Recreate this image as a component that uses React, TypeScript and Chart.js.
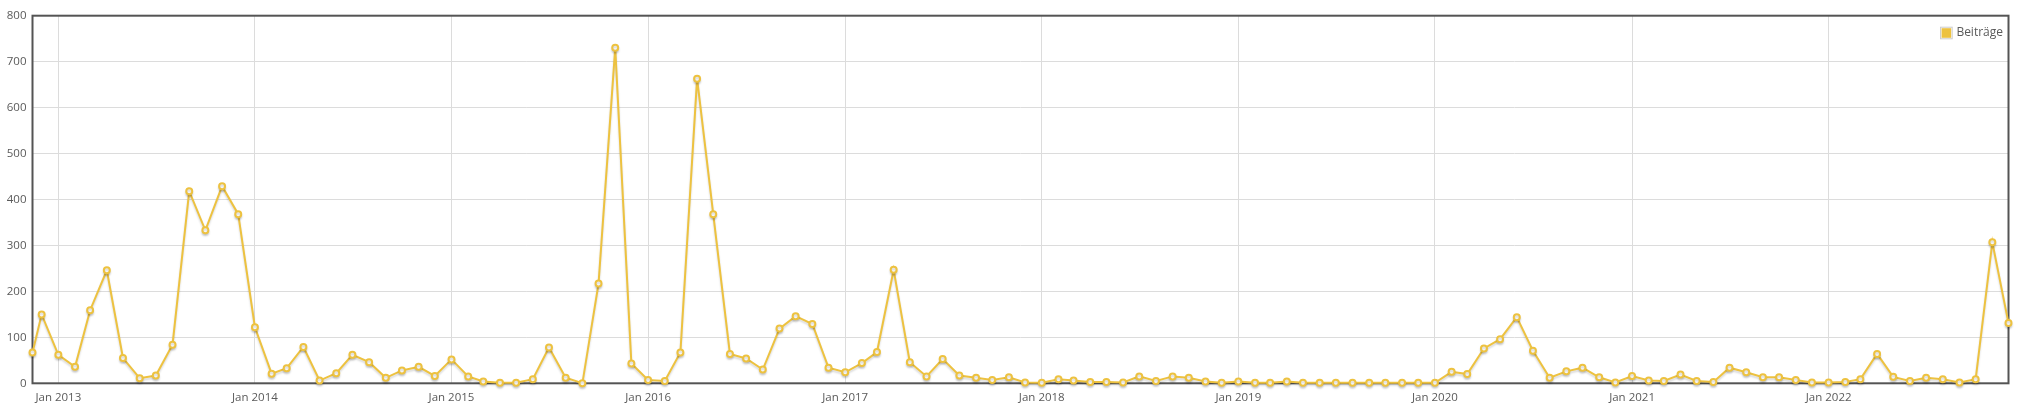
import React, { useEffect, useRef } from "react";
import { Chart, registerables } from "chart.js";

Chart.register(...registerables);

// ---- data ----
const seriesLabel = "Beiträge";
const seriesColor = "#edc240";

// first sample is a partial month starting mid-November 2012
const firstSampleDate = "2012-11-14";
const firstSampleValue = 67;

// monthly samples from Dec 2012 to Dec 2022
const monthlyStart = { year: 2012, month: 12 };
const values2012 = [150];
const values2013 = [62, 36, 159, 246, 55, 11, 17, 84, 418, 333, 429, 368];
const values2014 = [122, 21, 33, 79, 6, 22, 62, 46, 12, 28, 36, 16];
const values2015 = [52, 15, 4, 1, 1, 9, 78, 12, 0, 217, 730, 43];
const values2016 = [7, 5, 67, 663, 368, 64, 54, 30, 119, 146, 129, 34];
const values2017 = [24, 44, 68, 247, 46, 15, 53, 17, 12, 7, 13, 2];
const values2018 = [1, 9, 6, 3, 3, 2, 15, 5, 15, 12, 4, 1];
const values2019 = [4, 1, 1, 4, 1, 1, 1, 1, 1, 1, 1, 1];
const values2020 = [1, 25, 20, 76, 96, 144, 71, 12, 26, 34, 13, 2];
const values2021 = [16, 6, 5, 19, 5, 3, 34, 24, 13, 13, 7, 2];
const values2022 = [2, 3, 9, 64, 14, 5, 12, 9, 2, 9, 307, 131];

const tickYears = [2013, 2014, 2015, 2016, 2017, 2018, 2019, 2020, 2021, 2022];
const tickMonthLabel = "Jan";
const yMin = 0;
const yMax = 800;
const yStep = 100;

const monthlyValues = [
  ...values2012,
  ...values2013,
  ...values2014,
  ...values2015,
  ...values2016,
  ...values2017,
  ...values2018,
  ...values2019,
  ...values2020,
  ...values2021,
  ...values2022,
];

function buildPoints() {
  const pts: { x: number; y: number }[] = [];
  const [fy, fm, fd] = firstSampleDate.split("-").map(Number);
  pts.push({ x: Date.UTC(fy, fm - 1, fd), y: firstSampleValue });
  monthlyValues.forEach((v, i) => {
    pts.push({ x: Date.UTC(monthlyStart.year, monthlyStart.month - 1 + i, 1), y: v });
  });
  return pts;
}

const FONT = "'Open Sans', 'Noto Sans', sans-serif";
const TEXT_COLOR = "#5a5a5a";
const GRID_COLOR = "#dcdcdc";
const BORDER_COLOR = "#545454";

const framePlugin = {
  id: "frame",
  beforeDatasetsDraw(chart: any) {
    const { ctx, chartArea } = chart;
    ctx.save();
    ctx.strokeStyle = BORDER_COLOR;
    ctx.lineWidth = 2;
    ctx.strokeRect(
      chartArea.left,
      chartArea.top,
      chartArea.right - chartArea.left,
      chartArea.bottom - chartArea.top
    );
    ctx.restore();
    // shadow for the series
    ctx.save();
    ctx.shadowColor = "rgba(0,0,0,0.16)";
    ctx.shadowOffsetX = 0;
    ctx.shadowOffsetY = 2;
    ctx.shadowBlur = 2;
  },
  afterDatasetsDraw(chart: any) {
    const { ctx, chartArea } = chart;
    ctx.restore();
    // legend (inside, top right)
    const ds = chart.data.datasets[0];
    ctx.save();
    ctx.font = `12px ${FONT}`;
    const label = ds.label as string;
    const tw = ctx.measureText(label).width;
    const textRight = chartArea.right - 5.5;
    const textLeft = textRight - tw;
    const cy = chartArea.top + 17.3;
    const boxSize = 12.6;
    const boxLeft = textLeft - 3.7 - boxSize;
    const boxTop = cy - boxSize / 2;
    ctx.fillStyle = "#ffffff";
    ctx.fillRect(boxLeft, boxTop, boxSize, boxSize);
    ctx.strokeStyle = "#cccccc";
    ctx.lineWidth = 1;
    ctx.strokeRect(boxLeft + 0.5, boxTop + 0.5, boxSize - 1, boxSize - 1);
    ctx.fillStyle = ds.borderColor;
    ctx.fillRect(boxLeft + 1.5, boxTop + 1.5, boxSize - 3, boxSize - 3);
    ctx.fillStyle = TEXT_COLOR;
    ctx.textBaseline = "middle";
    ctx.textAlign = "left";
    ctx.fillText(label, textLeft, cy);
    ctx.restore();
  },
};

export default function App() {
  const canvasRef = useRef<HTMLCanvasElement | null>(null);

  useEffect(() => {
    if (!canvasRef.current) return;
    const points = buildPoints();
    const xMin = points[0].x;
    const xMax = points[points.length - 1].x;
    const chart = new Chart(canvasRef.current, {
      type: "line",
      data: {
        datasets: [
          {
            label: seriesLabel,
            data: points,
            borderColor: seriesColor,
            backgroundColor: seriesColor,
            borderWidth: 2,
            pointRadius: 3,
            pointBorderWidth: 2,
            pointBackgroundColor: "#ffffff",
            pointBorderColor: seriesColor,
            tension: 0,
            fill: false,
            clip: false as any,
          },
        ],
      },
      options: {
        animation: false,
        responsive: true,
        maintainAspectRatio: false,
        events: [],
        layout: { padding: { top: 15.7, right: 21.5, left: 0, bottom: 0 } },
        plugins: {
          legend: { display: false },
          tooltip: { enabled: false },
        },
        scales: {
          x: {
            type: "linear",
            min: xMin,
            max: xMax,
            afterBuildTicks(scale: any) {
              scale.ticks = tickYears.map((y) => ({ value: Date.UTC(y, 0, 1) }));
            },
            afterFit(scale: any) {
              scale.height = 416 - 383.3;
            },
            ticks: {
              autoSkip: false,
              maxRotation: 0,
              padding: 7.5,
              color: TEXT_COLOR,
              font: { family: FONT, size: 11.5 },
              callback(value: any) {
                return `${tickMonthLabel} ${new Date(Number(value)).getUTCFullYear()}`;
              },
            },
            grid: { color: GRID_COLOR, lineWidth: 1, drawTicks: false },
            border: { display: false },
          },
          y: {
            type: "linear",
            min: yMin,
            max: yMax,
            afterFit(scale: any) {
              scale.width = 32.5;
            },
            ticks: {
              stepSize: yStep,
              padding: 6,
              color: TEXT_COLOR,
              font: { family: FONT, size: 11.5 },
            },
            grid: { color: GRID_COLOR, lineWidth: 1, drawTicks: false },
            border: { display: false },
          },
        },
      },
      plugins: [framePlugin],
    });
    return () => chart.destroy();
  }, []);

  return (
    <div style={{ position: "absolute", left: 0, top: 0, width: 2030, height: 416, background: "#fff" }}>
      <canvas ref={canvasRef} />
    </div>
  );
}
